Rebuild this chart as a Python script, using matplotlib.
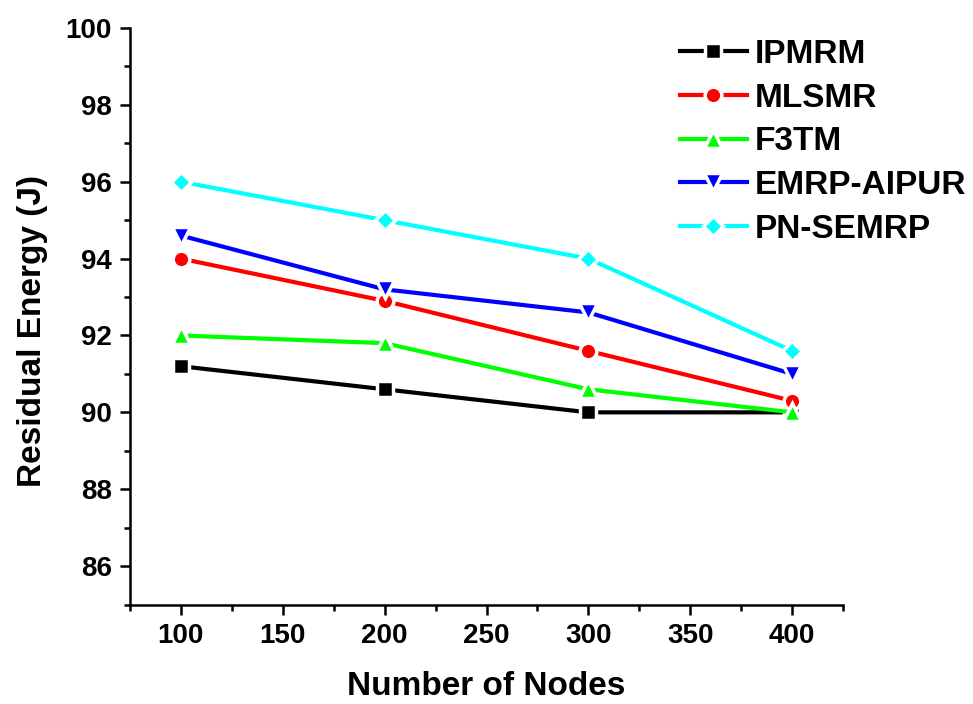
import numpy as np
import matplotlib.pyplot as plt
from matplotlib.ticker import MultipleLocator

plt.rcParams['font.family'] = ['Liberation Sans', 'DejaVu Sans']
plt.rcParams['font.weight'] = 'bold'

nodes = [100, 200, 300, 400]
ipmrm = [91.2, 90.6, 90.0, 90.0]
mlsmr = [94.0, 92.9, 91.6, 90.3]
f3tm = [92.0, 91.8, 90.6, 90.0]
emrp_aipur = [94.6, 93.2, 92.6, 91.0]
pn_semrp = [96.0, 95.0, 94.0, 91.6]

series = [
    ("IPMRM", ipmrm, 'black', 's', 11.5),
    ("MLSMR", mlsmr, 'red', 'o', 12),
    ("F3TM", f3tm, '#00ff00', '^', 12.5),
    ("EMRP-AIPUR", emrp_aipur, 'blue', 'v', 12.5),
    ("PN-SEMRP", pn_semrp, 'cyan', 'D', 10),
]

fig = plt.figure(figsize=(9.73, 7.04), dpi=100)
ax = fig.add_axes([0.1336, 0.1413, 0.7328, 0.8189])

for name, vals, c, m, ms in series:
    ax.plot(nodes, vals, color=c, marker=m, markersize=ms, linewidth=3,
            markeredgecolor='white', markeredgewidth=2.5, label=name)

ax.set_xlim(75, 425)
ax.set_ylim(85, 100)
ax.xaxis.set_major_locator(MultipleLocator(50))
ax.xaxis.set_minor_locator(MultipleLocator(25))
ax.yaxis.set_major_locator(MultipleLocator(2))
ax.yaxis.set_minor_locator(MultipleLocator(1))
ax.set_yticks([86, 88, 90, 92, 94, 96, 98, 100])

ax.spines['top'].set_visible(False)
ax.spines['right'].set_visible(False)
ax.spines['left'].set_linewidth(1.8)
ax.spines['bottom'].set_linewidth(1.8)
ax.tick_params(which='major', direction='out', length=7, width=1.8, labelsize=20, pad=6)
ax.tick_params(which='minor', direction='out', length=4, width=1.8)

ax.set_xlabel('Number of Nodes', fontsize=24, fontweight='bold', labelpad=16)
ax.set_ylabel('Residual Energy (J)', fontsize=24, fontweight='bold')
ax.yaxis.set_label_coords(-0.115, 0.475)

leg = ax.legend(loc='upper left', bbox_to_anchor=(680 / 973, 1 - 39 / 704),
                bbox_transform=fig.transFigure, frameon=False, fontsize=24,
                borderpad=0, borderaxespad=0, handlelength=2.0,
                handletextpad=0.25, labelspacing=0.38)

fig.savefig('out.png', dpi=100)
